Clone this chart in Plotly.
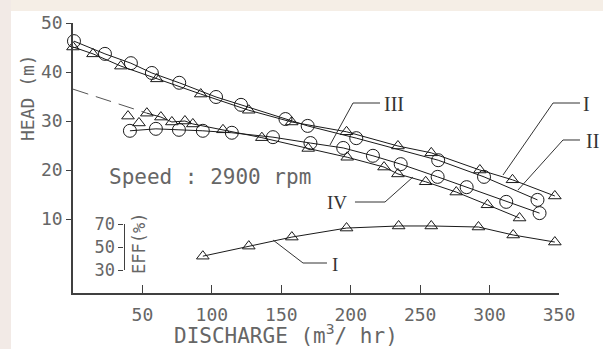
import plotly.graph_objects as go

# ---------------- data ----------------
# Pump I : head, triangles (upper)
I_x = [0, 14.4, 34.5, 60.4, 92, 126.6, 157.5, 197, 234, 258, 293, 316.5, 347]
I_y = [45.1, 43.7, 41.2, 38.6, 35.5, 32.2, 29.8, 27.8, 24.9, 23.5, 20.0, 18.0, 14.7]
# Pump II : head, circles (upper)
II_x = [0.7, 23, 41.7, 56.8, 76.5, 103, 121, 153, 169, 204, 263, 296, 334.5]
II_y = [46.3, 43.7, 41.8, 39.8, 37.8, 34.9, 33.3, 30.4, 29.0, 26.5, 22.0, 18.6, 13.9]
# Pump III : head, circles (lower)
III_x = [41, 59.7, 76.3, 93.5, 114.4, 144, 171, 194.6, 216, 236, 262.6, 283.5, 312, 336]
III_y = [28.0, 28.4, 28.2, 28.0, 27.6, 26.7, 25.5, 24.5, 22.9, 21.2, 18.6, 16.5, 13.5, 11.2]
# Pump IV : head, triangles (lower); first two points lie off the drawn curve
IV_x = [39.6, 47.5, 53.2, 63.3, 71.2, 80.6, 86.3, 108, 136, 169.4, 197.5, 224, 234, 254, 276, 298.5, 321.6]
IV_y = [31.0, 29.6, 31.6, 30.8, 29.8, 30.0, 29.4, 28.2, 26.6, 24.4, 22.6, 20.6, 19.2, 17.6, 15.5, 12.9, 10.2]
# dashed extrapolation of curve IV to zero discharge
IV_ext_x = [0, 53.2]
IV_ext_y = [36.5, 31.6]
# Efficiency (%) of pump I
EFF_x = [93.5, 126.6, 157.6, 197, 234.5, 258, 292, 317, 347]
EFF_y = [42.2, 50.9, 58.7, 66.5, 68.3, 68.3, 67.4, 60.5, 54.4]

x_ticks = [50, 100, 150, 200, 250, 300, 350]
y_ticks = [10, 20, 30, 40, 50]
eff_ticks = [30, 50, 70]

# ---------------- layout helpers ----------------
W, H = 603, 349
L, R, T, B = 73, 559, 23, 293   # plot area in pixels


def px(xp, yp):
    return (xp - L) / (R - L), (B - yp) / (B - T)


MONO = "DejaVu Sans Mono"
SERIF = "Liberation Serif"
TXT = "#666666"
LINE = "#1a1a1a"

fig = go.Figure()

tri = dict(symbol="triangle-up-open", size=11, color=LINE, line=dict(width=1, color=LINE))
circ = dict(symbol="circle-open", size=13, color=LINE, line=dict(width=1, color=LINE))
ln = dict(color=LINE, width=1)

fig.add_trace(go.Scatter(x=I_x, y=I_y, mode="lines+markers", marker=tri, line=ln,
                         cliponaxis=False, name="I"))
fig.add_trace(go.Scatter(x=II_x, y=II_y, mode="lines+markers", marker=circ, line=ln,
                         cliponaxis=False, name="II"))
fig.add_trace(go.Scatter(x=III_x, y=III_y, mode="lines+markers", marker=circ, line=ln,
                         cliponaxis=False, name="III"))
fig.add_trace(go.Scatter(x=IV_ext_x, y=IV_ext_y, mode="lines",
                         line=dict(color="#555", width=1, dash="16px,8px"),
                         cliponaxis=False, name="IV ext"))
fig.add_trace(go.Scatter(x=IV_x[2:], y=IV_y[2:], mode="lines+markers", marker=tri, line=ln,
                         cliponaxis=False, name="IV"))
fig.add_trace(go.Scatter(x=IV_x[:2], y=IV_y[:2], mode="markers", marker=tri,
                         cliponaxis=False, name="IV pts"))
fig.add_trace(go.Scatter(x=EFF_x, y=EFF_y, mode="lines+markers", marker=tri, line=ln,
                         xaxis="x", yaxis="y2", cliponaxis=False, name="EFF I"))

eff_lo = (B - 270.3) / (B - T)
eff_hi = (B - 224.0) / (B - T)

fig.update_layout(
    width=W, height=H,
    margin=dict(l=L, r=W - R, t=T, b=H - B),
    paper_bgcolor="white", plot_bgcolor="white",
    showlegend=False,
    xaxis=dict(range=[0, 350], showgrid=False, zeroline=False,
               showline=True, linecolor="#404040", linewidth=1.5,
               tickmode="array", tickvals=x_ticks,
               ticks="inside", ticklen=8, tickwidth=1.2, tickcolor="#404040",
               ticklabelstandoff=5,
               tickfont=dict(family=MONO, size=18, color=TXT)),
    yaxis=dict(range=[-5.1, 50], showgrid=False, zeroline=False,
               showline=True, linecolor="#404040", linewidth=1.5,
               tickmode="array", tickvals=y_ticks,
               ticks="outside", ticklen=5, tickwidth=1.2, tickcolor="#404040",
               minor=dict(tickmode="array", tickvals=[0], ticks="inside", ticklen=6,
                          tickcolor="#404040", showgrid=False),
               tickfont=dict(family=MONO, size=18, color=TXT)),
    yaxis2=dict(domain=[eff_lo, eff_hi], range=[30, 70], anchor="free",
                position=(123.5 - L) / (R - L), side="left",
                showgrid=False, zeroline=False,
                showline=True, linecolor="#404040", linewidth=1.2,
                tickmode="array", tickvals=eff_ticks,
                ticks="outside", ticklen=5, tickwidth=1.2, tickcolor="#404040",
                tickfont=dict(family=MONO, size=17, color=TXT)),
)

ann = []


def add_text(text, xp, yp, size, family=MONO, angle=0, xanchor="center", color=TXT):
    x, y = px(xp, yp)
    ann.append(dict(text=text, x=x, y=y, xref="paper", yref="paper", showarrow=False,
                    xanchor=xanchor, yanchor="middle", textangle=angle, borderpad=0,
                    font=dict(family=family, size=size, color=color)))


add_text("HEAD (m)", 27, 98, 18, angle=-90)
add_text("DISCHARGE (m<sup>3</sup>/ hr)", 286, 334, 21)
add_text("Speed : 2900 rpm", 210, 177, 21)
add_text("EFF(%)", 139, 244, 17, angle=-90)
add_text("III", 383, 104, 20, family=SERIF, xanchor="left", color="#333")
add_text("I", 586, 104, 20, family=SERIF, color="#333")
add_text("II", 592, 141, 20, family=SERIF, color="#333")
add_text("IV", 337, 202, 19, family=SERIF, color="#333")
add_text("I", 335, 264, 19, family=SERIF, color="#333")

shapes = []


def leader(points):
    pts = [px(a, b) for a, b in points]
    path = "M " + " L ".join(f"{x:.4f},{y:.4f}" for x, y in pts)
    shapes.append(dict(type="path", path=path, xref="paper", yref="paper",
                       line=dict(color="#333", width=1)))


leader([(330, 145), (353, 103), (380, 103)])
leader([(355, 202), (385, 202), (413, 177)])
leader([(503, 175), (553, 103), (580, 103)])
leader([(518, 190), (563, 140), (580, 140)])
leader([(273, 240), (303, 263), (327, 263)])

# faint watermark bands around the scanned image
for (x0, y0, x1, y1, col) in [(0, 0, 603, 11, "#f5eee6"), (0, 0, 11, 349, "#f2eae6")]:
    a0, b0 = px(x0, y1)
    a1, b1 = px(x1, y0)
    shapes.append(dict(type="rect", xref="paper", yref="paper", x0=a0, y0=b0, x1=a1, y1=b1,
                       fillcolor=col, line=dict(width=0), layer="below"))

fig.update_layout(annotations=ann, shapes=shapes)
fig.write_html("out.html", config={"displayModeBar": False},
               post_script="document.body.style.margin='0';document.body.style.overflow='hidden';")
